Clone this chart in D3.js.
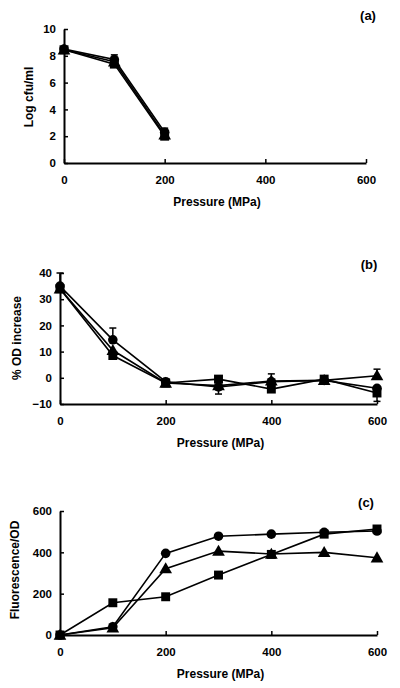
<!DOCTYPE html>
<html><head><meta charset="utf-8">
<script src="https://cdn.jsdelivr.net/npm/d3@7"></script>
<style>
body{margin:0;background:#fff;}
text{font-family:"Liberation Sans",Arial,sans-serif;font-weight:bold;fill:#000;}
</style></head><body>
<svg id="c" width="400" height="688"></svg>
<script>
const pressure = [0,100,200,300,400,500,600];
const xTicks = [0,200,400,600];

// Panel (a) Log cfu/ml
const aPressure = [0,100,200];
const aCircle = [8.5,7.72,2.3];
const aTriangle = [8.45,7.55,2.1];
const aSquare = [8.45,7.38,2.0];
const aErrTop = [null,8.07,2.6];
const aTicks = [0,2,4,6,8,10];

// Panel (b) % OD increase
const bCircle = [35,14.5,-1.5,-3.5,-1.5,-1,-4];
const bTriangle = [34,10.5,-2,-3,-1.2,-1,0.8];
const bSquare = [34,8.5,-2,-0.5,-4.3,-0.5,-5.8];
const bErrCircleTop = [40,19,null,null,null,null,null];
const bErrTriTop = [null,null,null,null,1.5,null,3.3];
const bErrSqBottom = [null,null,null,-6.2,null,null,-9];
const bTicks = [-10,0,10,20,30,40];

// Panel (c) Fluorescence/OD
const cCircle = [0,40,395,478,488,497,503];
const cTriangle = [0,35,321,406,392,400,374];
const cSquare = [0,156,185,290,390,488,513];
const cTicks = [0,200,400,600];

const svg = d3.select("#c");

function panel(cfg){
  const g = svg.append("g");
  const x = d3.scaleLinear().domain([0,600]).range([cfg.left,cfg.right]);
  const y = d3.scaleLinear().domain(cfg.ydom).range([cfg.bottom,cfg.top]);
  const xa = g.append("g").attr("transform",`translate(0,${cfg.bottom})`)
    .call(d3.axisBottom(x).tickValues(xTicks).tickSizeInner(-4).tickSizeOuter(0).tickPadding(13));
  const ya = g.append("g").attr("transform",`translate(${cfg.left},0)`)
    .call(d3.axisLeft(y).tickValues(cfg.yticks).tickSizeInner(-4).tickSizeOuter(0).tickPadding(8));
  [xa,ya].forEach(a=>{
    a.select(".domain").attr("stroke","#000").attr("stroke-width",2);
    a.selectAll(".tick line").attr("stroke","#000").attr("stroke-width",1.5);
    a.selectAll("text").style("font-size","11.5px").style("font-weight","bold").attr("fill","#000");
  });
  (cfg.errs||[]).forEach(e=>{
    e.vals.forEach((v,i)=>{
      if(v===null) return;
      const xx = x(e.xs[i]), y0 = y(e.base[i]), y1 = y(v);
      g.append("line").attr("x1",xx).attr("x2",xx).attr("y1",y0).attr("y2",y1).attr("stroke","#000").attr("stroke-width",1.5);
      g.append("line").attr("x1",xx-3.5).attr("x2",xx+3.5).attr("y1",y1).attr("y2",y1).attr("stroke","#000").attr("stroke-width",1.5);
    });
  });
  const line = d3.line().x(d=>x(d[0])).y(d=>y(d[1]));
  cfg.series.forEach(s=>{
    const pts = cfg.xs.map((p,i)=>[p,s.vals[i]]);
    g.append("path").datum(pts).attr("d",line).attr("fill","none").attr("stroke","#000").attr("stroke-width",1.6);
  });
  cfg.series.forEach(s=>{
    const pts = cfg.xs.map((p,i)=>[p,s.vals[i]]);
    const sym = s.shape==="circle"?d3.symbolCircle:s.shape==="triangle"?d3.symbolTriangle:d3.symbolSquare;
    const size = s.shape==="circle"?72:s.shape==="triangle"?70:80;
    g.selectAll(null).data(pts).enter().append("path")
      .attr("d",d3.symbol().type(sym).size(size))
      .attr("transform",d=>`translate(${x(d[0])},${y(d[1])+(s.shape==="triangle"?1:0)})`)
      .attr("fill","#000");
  });
  g.append("text").attr("x",(cfg.left+cfg.right)/2+2).attr("y",cfg.bottom+43)
    .attr("text-anchor","middle").style("font-size","12px").text("Pressure (MPa)");
  g.append("text").attr("transform",`translate(${cfg.ylx},${cfg.yly}) rotate(-90)`)
    .attr("text-anchor","middle").style("font-size","12px").text(cfg.ylabel);
  g.append("text").attr("x",cfg.tagx).attr("y",cfg.tagy).attr("text-anchor","middle")
    .style("font-size","13px").text(cfg.tag);
}

panel({left:64,right:366,top:29,bottom:163,ydom:[0,10],yticks:aTicks,xs:aPressure,
  series:[{vals:aCircle,shape:"circle"},{vals:aTriangle,shape:"triangle"},{vals:aSquare,shape:"square"}],
  errs:[{xs:aPressure,base:aCircle,vals:aErrTop}],
  ylabel:"Log cfu/ml",ylx:33,yly:97,tag:"(a)",tagx:368,tagy:20});

panel({left:60,right:377,top:273,bottom:404,ydom:[-10,40],yticks:bTicks,xs:pressure,
  series:[{vals:bCircle,shape:"circle"},{vals:bTriangle,shape:"triangle"},{vals:bSquare,shape:"square"}],
  errs:[{xs:pressure,base:bCircle,vals:bErrCircleTop},{xs:pressure,base:bTriangle,vals:bErrTriTop},{xs:pressure,base:bSquare,vals:bErrSqBottom}],
  ylabel:"% OD increase",ylx:21,yly:338,tag:"(b)",tagx:369,tagy:269});

panel({left:60,right:377,top:511,bottom:635,ydom:[0,600],yticks:cTicks,xs:pressure,
  series:[{vals:cCircle,shape:"circle"},{vals:cTriangle,shape:"triangle"},{vals:cSquare,shape:"square"}],
  ylabel:"Fluorescence/OD",ylx:19,yly:570,tag:"(c)",tagx:366,tagy:507});
</script></body></html>
